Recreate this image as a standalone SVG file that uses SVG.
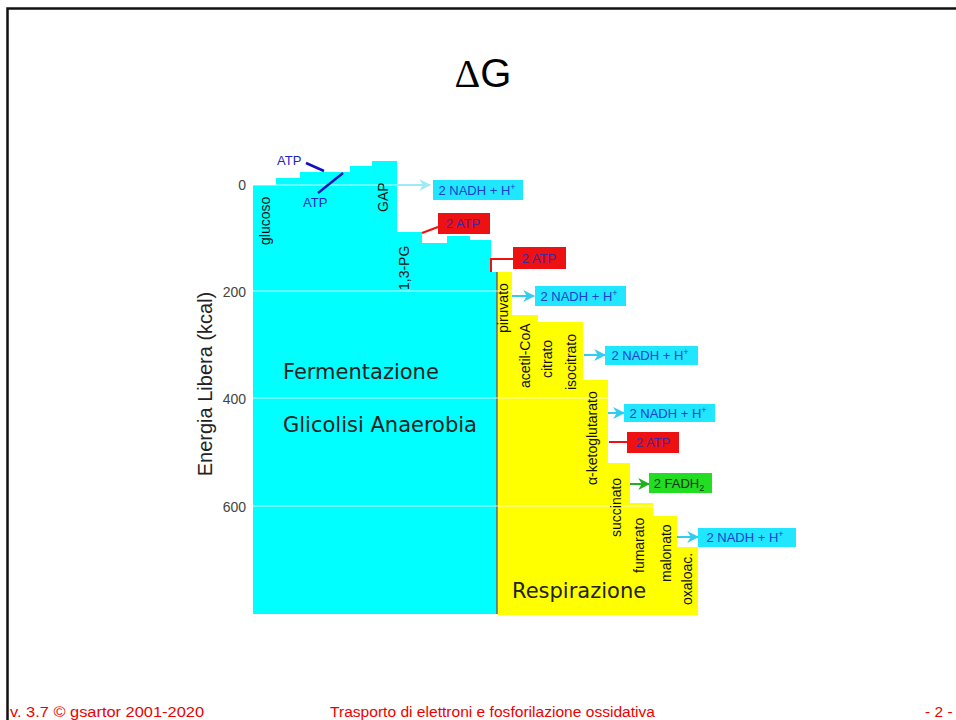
<svg xmlns="http://www.w3.org/2000/svg" width="956" height="720" viewBox="0 0 956 720">
<defs>
<style>
.lbl{font-family:"Liberation Sans",Arial,sans-serif;font-size:14px;fill:#111}
.tick{font-family:"Liberation Sans",Arial,sans-serif;font-size:14px;fill:#444;text-anchor:end}
.big{font-family:"DejaVu Sans",Verdana,sans-serif;font-size:21px;fill:#222}
.box-c{fill:#20e6ff}
.box-r{fill:#ee1111}
.box-g{fill:#22dd22}
.bt{font-family:"Liberation Sans",Arial,sans-serif;font-size:13px;text-anchor:middle}
.bt-c{fill:#1f3fd0}
.bt-r{fill:#3a2aa0}
.bt-g{fill:#153015}
.grid{stroke:#ffffff;stroke-width:1;opacity:0.8}
.arr-c{stroke:#33ccee;stroke-width:2;fill:none;marker-end:url(#ahc)}
.arr-p{stroke:#9eeaf8;stroke-width:2;fill:none;marker-end:url(#ahp)}
.arr-g{stroke:#20b020;stroke-width:2;fill:none;marker-end:url(#ahg)}
.red{stroke:#ee1111;stroke-width:2;fill:none}
.blu{stroke:#1010c0;stroke-width:2.5;fill:none}
.atp{font-family:"Liberation Sans",Arial,sans-serif;font-size:13px;fill:#2222cc}
.foot{font-family:"Liberation Sans",Tahoma,sans-serif;font-size:15.5px;fill:#ee0000}
</style>
<marker id="ahc" viewBox="0 0 10 10" refX="9" refY="5" markerWidth="12" markerHeight="12" markerUnits="userSpaceOnUse" orient="auto"><path d="M0,0 L10,5 L0,10 L3,5 z" fill="#33ccee"/></marker>
<marker id="ahp" viewBox="0 0 10 10" refX="9" refY="5" markerWidth="12" markerHeight="12" markerUnits="userSpaceOnUse" orient="auto"><path d="M0,0 L10,5 L0,10 L3,5 z" fill="#9eeaf8"/></marker>
<marker id="ahg" viewBox="0 0 10 10" refX="9" refY="5" markerWidth="12" markerHeight="12" markerUnits="userSpaceOnUse" orient="auto"><path d="M0,0 L10,5 L0,10 L3,5 z" fill="#20b020"/></marker>
</defs>
<rect x="0" y="0" width="956" height="720" fill="#ffffff"/>
<path d="M7.5,720 V8.5 H956" fill="none" stroke="#111" stroke-width="2.5"/>

<text x="483" y="87" text-anchor="middle" font-family="Liberation Sans, Arial, sans-serif" font-size="40" fill="#000"><tspan font-family="Liberation Serif, serif">Δ</tspan>G</text>

<g id="chart">
<path id="glicolisi-area" d="M253,614 V185 H276 V178 H300 V172 H350 V166 H372 V161 H397 V232 H422 V243 H447 V236 H470 V240 H491 V272 H497 V614 Z" fill="#00ffff"/>
<path id="respirazione-area" d="M497,272 H512 V315 H538 V322 H583 V380 H608 V463 H630 V503 H653 V516 H677 V547 H698 V615 H497 Z" fill="#ffff00"/>
<line x1="497" y1="272" x2="497" y2="614" stroke="#a03030" stroke-width="1.2"/>
<line class="grid" x1="253" y1="185" x2="397" y2="185"/>
<line class="grid" x1="248" y1="291" x2="698" y2="291"/>
<line class="grid" x1="248" y1="398" x2="698" y2="398"/>
<line class="grid" x1="248" y1="506" x2="698" y2="506"/>
</g>

<g id="axis">
<text class="tick" x="246" y="190">0</text>
<text class="tick" x="246" y="297">200</text>
<text class="tick" x="246" y="404">400</text>
<text class="tick" x="246" y="512">600</text>
<text transform="translate(212,384) rotate(-90)" text-anchor="middle" font-family="Liberation Sans, Arial, sans-serif" font-size="20" fill="#222">Energia Libera (kcal)</text>
</g>

<g id="region-labels">
<text class="big" x="283" y="379">Fermentazione</text>
<text class="big" x="283" y="432">Glicolisi Anaerobia</text>
<text class="big" x="512" y="598">Respirazione</text>
</g>

<g id="metabolites">
<text class="lbl" transform="translate(270,245) rotate(-90)">glucoso</text>
<text class="lbl" transform="translate(388,212) rotate(-90)">GAP</text>
<text class="lbl" transform="translate(409,290) rotate(-90)">1,3-PG</text>
<text class="lbl" transform="translate(508,333) rotate(-90)">piruvato</text>
<text class="lbl" transform="translate(530,388) rotate(-90)">acetil-CoA</text>
<text class="lbl" transform="translate(552,378) rotate(-90)">citrato</text>
<text class="lbl" transform="translate(576,390) rotate(-90)">isocitrato</text>
<text class="lbl" transform="translate(597,485) rotate(-90)">α-ketoglutarato</text>
<text class="lbl" transform="translate(621,537) rotate(-90)">succinato</text>
<text class="lbl" transform="translate(644,573) rotate(-90)">fumarato</text>
<text class="lbl" transform="translate(671,582) rotate(-90)">malonato</text>
<text class="lbl" transform="translate(692,605) rotate(-90)">oxaloac.</text>
</g>

<g id="connectors">
<line class="blu" x1="306" y1="163" x2="324" y2="171"/>
<line class="blu" x1="318" y1="193" x2="343" y2="173"/>
<line class="arr-p" x1="397" y1="185" x2="430" y2="185"/>
<line class="red" x1="422" y1="233" x2="438" y2="227"/>
<polyline class="red" points="491,272 491,259 513,259"/>
<line class="arr-c" x1="512" y1="296" x2="534" y2="296"/>
<line class="arr-c" x1="584" y1="355" x2="605" y2="355"/>
<line class="arr-c" x1="608" y1="413" x2="624" y2="413"/>
<line class="red" x1="609" y1="442" x2="627" y2="442"/>
<line class="arr-g" x1="630" y1="484" x2="649" y2="484"/>
<line class="arr-c" x1="677" y1="537" x2="698" y2="537"/>
</g>

<g id="atp-in-1"><text class="atp" x="277" y="165">ATP</text></g>
<g id="atp-in-2"><text class="atp" x="303" y="207">ATP</text></g>

<g id="nadh-1"><rect class="box-c" x="433" y="180" width="90" height="20"/><text class="bt bt-c" x="477" y="195">2 NADH + H<tspan font-size="9" dy="-5">+</tspan></text></g>
<g id="atp-1"><rect class="box-r" x="438" y="213" width="52" height="21"/><text class="bt bt-r" x="463" y="228">2 ATP</text></g>
<g id="atp-2"><rect class="box-r" x="513" y="247" width="53" height="22"/><text class="bt bt-r" x="539" y="263">2 ATP</text></g>
<g id="nadh-2"><rect class="box-c" x="535" y="286" width="91" height="20"/><text class="bt bt-c" x="579" y="301">2 NADH + H<tspan font-size="9" dy="-5">+</tspan></text></g>
<g id="nadh-3"><rect class="box-c" x="605" y="346" width="93" height="19"/><text class="bt bt-c" x="650" y="360">2 NADH + H<tspan font-size="9" dy="-5">+</tspan></text></g>
<g id="nadh-4"><rect class="box-c" x="624" y="404" width="91" height="18"/><text class="bt bt-c" x="668" y="418">2 NADH + H<tspan font-size="9" dy="-5">+</tspan></text></g>
<g id="atp-3"><rect class="box-r" x="627" y="432" width="52" height="21"/><text class="bt bt-r" x="653" y="447">2 ATP</text></g>
<g id="fadh2"><rect class="box-g" x="649" y="473" width="63" height="20"/><text class="bt bt-g" x="679" y="488">2 FADH<tspan font-size="9" dy="3">2</tspan></text></g>
<g id="nadh-5"><rect class="box-c" x="698" y="528" width="98" height="19"/><text class="bt bt-c" x="745" y="542">2 NADH + H<tspan font-size="9" dy="-5">+</tspan></text></g>

<g id="footer">
<text class="foot" x="10" y="717" textLength="194" lengthAdjust="spacingAndGlyphs">v. 3.7 © gsartor 2001-2020</text>
<text class="foot" x="330" y="717" textLength="325" lengthAdjust="spacingAndGlyphs">Trasporto di elettroni e fosforilazione ossidativa</text>
<text class="foot" x="925" y="717">- 2 -</text>
</g>
</svg>
